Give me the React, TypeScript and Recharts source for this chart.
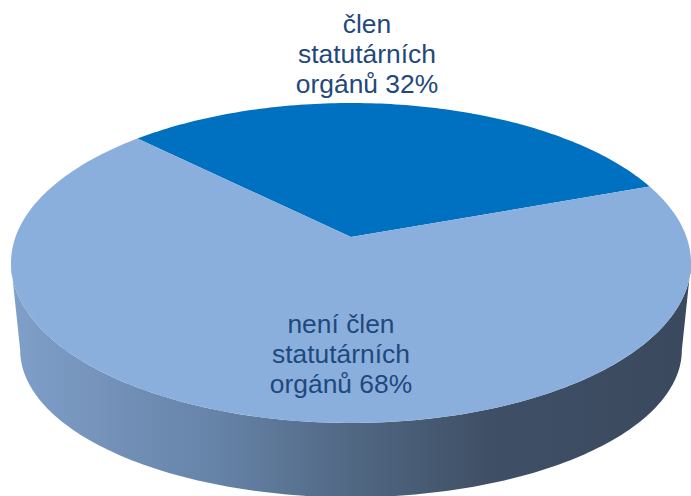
import { PieChart, Pie, Cell } from 'recharts';

const categories = ['člen statutárních orgánů', 'není člen statutárních orgánů'];
const shares = [32, 68];
const labelLines = [
  ['člen', 'statutárních', 'orgánů 32%'],
  ['není člen', 'statutárních', 'orgánů 68%'],
];
const sliceColors = ['#0070C0', '#8AAFDD'];
const TEXT_COLOR = '#1F497D';

const chartData = categories.map((name, i) => ({ name, value: shares[i] }));

// tilted disc: the circle of the pie goes through a small perspective map
const TILT = 0.1625;
const PITCH = 117.26;
const project = (cx: number, cy: number, r: number, angle: number) => {
  const u = Math.cos((angle * Math.PI) / 180);
  const v = Math.sin((angle * Math.PI) / 180);
  const w = 1 + TILT * v;
  return { x: cx + (r * u) / w, y: (cy - PITCH * v) / w };
};

const arcPoints = (cx: number, cy: number, r: number, from: number, to: number) => {
  const steps = Math.max(8, Math.round(Math.abs(to - from)));
  const points = [];
  for (let i = 0; i <= steps; i++) {
    points.push(project(cx, cy, r, from + ((to - from) * i) / steps));
  }
  return points;
};

const toPath = (points: { x: number; y: number }[]) =>
  points.map((p, i) => `${i === 0 ? 'M' : 'L'}${p.x.toFixed(2)},${p.y.toFixed(2)}`).join(' ');

function TopSlice(props: any) {
  const points = arcPoints(props.cx, props.cy, props.outerRadius, props.startAngle, props.endAngle);
  return <path d={`M${props.cx},${props.cy} ${toPath(points).replace('M', 'L')} Z`} fill={props.fill} stroke="none" />;
}

// side wall: rim of the disc down to a slightly smaller rim below it
const RIM_MID_Y = 263;
const BASE_MID_Y = 350;
const BASE_SCALE_X = 0.973;
const BASE_SCALE_Y = 0.92;
// the part of the rim that faces the viewer, widest point to widest point
const FRONT_FROM = 189.35;
const FRONT_TO = 350.65;

function WallSlice(props: any) {
  const from = Math.max(props.startAngle, FRONT_FROM);
  const to = Math.min(props.endAngle, FRONT_TO);
  if (to <= from) return null;
  const top = arcPoints(props.cx, props.cy, props.outerRadius, from, to);
  const base = top
    .map((p) => ({
      x: props.cx + (p.x - props.cx) * BASE_SCALE_X,
      y: BASE_MID_Y + (p.y - RIM_MID_Y) * BASE_SCALE_Y,
    }))
    .reverse();
  return <path d={`${toPath(top)} ${toPath(base).replace('M', 'L')} Z`} fill="url(#wallFade)" stroke="none" />;
}

const labelSpots = [
  { x: 367, y: 33 },
  { x: 341, y: 333 },
];

function SliceLabel(props: any) {
  const spot = labelSpots[props.index];
  return (
    <text x={spot.x} y={spot.y} textAnchor="middle" fill={TEXT_COLOR} fontFamily="Liberation Sans" fontSize={26.4}>
      {labelLines[props.index].map((line, i) => (
        <tspan key={line} x={spot.x} y={spot.y + i * 30}>
          {line}
        </tspan>
      ))}
    </text>
  );
}

export default function App() {
  return (
    <div style={{ position: 'absolute', left: 0, top: 0, width: 691, height: 496, overflow: 'hidden', background: '#fff' }}>
      <PieChart width={691} height={496} margin={{ top: 0, right: 0, bottom: 0, left: 0 }}>
        <defs>
          <linearGradient id="wallFade" gradientUnits="userSpaceOnUse" x1={11} y1={0} x2={691} y2={0}>
            <stop offset="0" stopColor="#809FC9" />
            <stop offset="0.3" stopColor="#6683A8" />
            <stop offset="0.5" stopColor="#516883" />
            <stop offset="0.7" stopColor="#3F4F66" />
            <stop offset="1" stopColor="#3A495D" />
          </linearGradient>
        </defs>
        <Pie
          data={chartData}
          dataKey="value"
          cx={351}
          cy={237}
          outerRadius={335.5}
          startAngle={20}
          endAngle={380}
          stroke="none"
          shape={WallSlice}
          isAnimationActive={false}
        />
        <Pie
          data={chartData}
          dataKey="value"
          cx={351}
          cy={237}
          outerRadius={335.5}
          startAngle={20}
          endAngle={380}
          stroke="none"
          shape={TopSlice}
          label={SliceLabel}
          labelLine={false}
          isAnimationActive={false}
        >
          {chartData.map((d, i) => (
            <Cell key={d.name} fill={sliceColors[i]} />
          ))}
        </Pie>
      </PieChart>
    </div>
  );
}
